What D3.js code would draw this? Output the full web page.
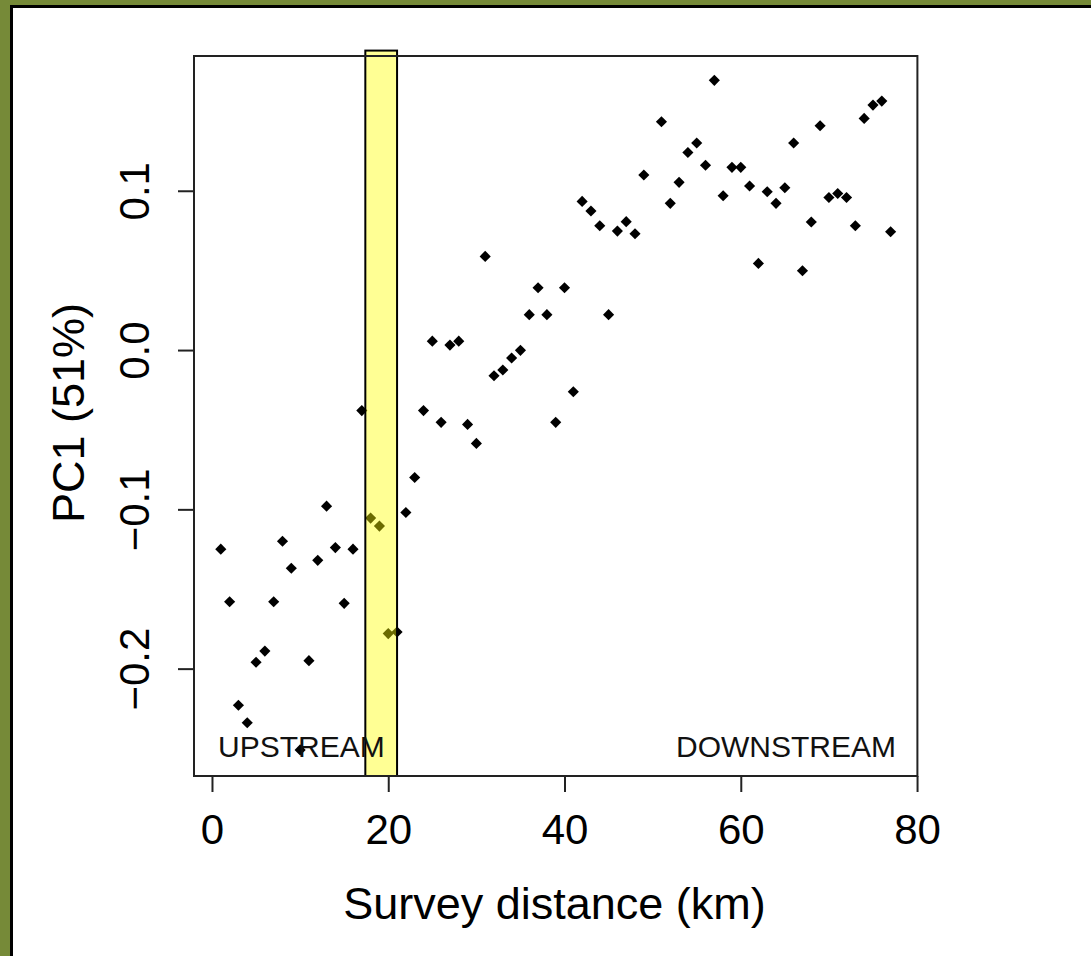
<!DOCTYPE html>
<html>
<head>
<meta charset="utf-8">
<script src="https://cdn.jsdelivr.net/npm/d3@7"></script>
<style>
  html, body { margin: 0; padding: 0; background: #fff; }
  svg { display: block; }
  text { font-family: "Liberation Sans", Arial, sans-serif; }
</style>
</head>
<body>
<svg id="chart" width="1091" height="956"></svg>
<script>
// ---- data ----
const distanceKm = [
  1, 2, 3, 4, 5, 6, 7, 8, 9, 10,
  11, 12, 13, 14, 15, 16, 17, 18, 19, 20,
  21, 22, 23, 24, 25, 26, 27, 28, 29, 30,
  31, 32, 33, 34, 35, 36, 37, 38, 39, 40,
  41, 42, 43, 44, 45, 46, 47, 48, 49,
  51, 52, 53, 54, 55, 56, 57, 58, 59, 60,
  61, 62, 63, 64, 65, 66, 67, 68, 69, 70,
  71, 72, 73, 74, 75, 76, 77
];
const pc1 = [
  -0.125, -0.158, -0.223, -0.234, -0.196, -0.189, -0.158, -0.120, -0.137, -0.251,
  -0.195, -0.132, -0.098, -0.124, -0.159, -0.125, -0.038, -0.1055, -0.1105, -0.178,
  -0.177, -0.102, -0.080, -0.038, 0.0056, -0.0454, 0.0031, 0.0056, -0.0467, -0.0586,
  0.0588, -0.0161, -0.0125, -0.005, -0.0002, 0.0222, 0.0391, 0.0222, -0.0454, 0.0391,
  -0.0262, 0.0933, 0.0873, 0.078, 0.0222, 0.0747, 0.0806, 0.073, 0.1099,
  0.1433, 0.0921, 0.1053, 0.124, 0.130, 0.116, 0.1693, 0.0969, 0.1147, 0.1147,
  0.103, 0.0544, 0.0994, 0.0921, 0.1019, 0.130, 0.0498, 0.0804, 0.1408, 0.0958,
  0.0983, 0.0958, 0.078, 0.1454, 0.1538, 0.1563, 0.0743
];
const xTicks = [0, 20, 40, 60, 80];
const yTicks = [-0.2, -0.1, 0.0, 0.1];
const bandKm = [17.4, 21.0];
const bandTopValue = 0.188;
const xLabel = "Survey distance (km)";
const yLabel = "PC1 (51%)";
const leftNote = "UPSTREAM";
const rightNote = "DOWNSTREAM";

// ---- layout ----
const svg = d3.select("#chart");
const W = 1091, H = 956;
const box = { left: 194, right: 917.4, top: 56, bottom: 776 };

const x = d3.scaleLinear().domain([-2.04, 80.04]).range([box.left, box.right]);
const y = d3.scaleLinear().domain([-0.2674, 0.1846]).range([box.bottom, box.top]);

// background & frame
svg.append("rect").attr("x", 0).attr("y", 0).attr("width", W).attr("height", H).attr("fill", "#768a38");
svg.append("rect").attr("x", 10).attr("y", 5).attr("width", W - 10).attr("height", H - 5).attr("fill", "#000");
svg.append("rect").attr("x", 13).attr("y", 8).attr("width", W - 13).attr("height", H - 8).attr("fill", "#fff");

// points (filled diamonds)
const pts = distanceKm.map((d, i) => ({ km: d, v: pc1[i] }));
svg.append("g").selectAll("path").data(pts).join("path")
  .attr("d", d3.symbol().type(d3.symbolSquare).size(62))
  .attr("transform", d => `translate(${x(d.km)},${y(d.v)}) rotate(45)`)
  .attr("fill", "#000");

// highlight band (semi-transparent yellow over points)
svg.append("rect")
  .attr("x", x(bandKm[0]))
  .attr("y", y(bandTopValue))
  .attr("width", x(bandKm[1]) - x(bandKm[0]))
  .attr("height", box.bottom - y(bandTopValue))
  .attr("fill", "rgb(255,255,0)")
  .attr("fill-opacity", 0.42)
  .attr("stroke", "#000")
  .attr("stroke-width", 2);

// plot box
svg.append("rect")
  .attr("x", box.left).attr("y", box.top)
  .attr("width", box.right - box.left).attr("height", box.bottom - box.top)
  .attr("fill", "none").attr("stroke", "#222").attr("stroke-width", 2);

// axes
const fs = 42, fsLab = 45;
const xAxis = d3.axisBottom(x).tickValues(xTicks).tickSize(16).tickPadding(22).tickFormat(d3.format("d"));
const gx = svg.append("g").attr("transform", `translate(0,${box.bottom})`).call(xAxis);
gx.select(".domain").remove();
gx.selectAll(".tick line").attr("stroke", "#222").attr("stroke-width", 2);
gx.selectAll(".tick text").attr("font-size", fs).attr("fill", "#000")
  .attr("font-family", "Liberation Sans, Arial, sans-serif");

const yAxis = d3.axisLeft(y).tickValues(yTicks).tickSize(16).tickFormat(d3.format(".1f"));
const gy = svg.append("g").attr("transform", `translate(${box.left},0)`).call(yAxis);
gy.select(".domain").remove();
gy.selectAll(".tick line").attr("stroke", "#222").attr("stroke-width", 2);
gy.selectAll(".tick text")
  .attr("font-size", fs).attr("fill", "#000")
  .attr("font-family", "Liberation Sans, Arial, sans-serif")
  .attr("x", null)
  .attr("text-anchor", "middle")
  .attr("transform", "translate(-60,0) rotate(-90)")
  .attr("y", 0)
  .attr("dy", "0.35em");

// axis titles
svg.append("text")
  .attr("x", (x(0) + x(80)) / 2 - 10).attr("y", 919)
  .attr("text-anchor", "middle").attr("font-size", fsLab).attr("fill", "#000")
  .text(xLabel);
svg.append("text")
  .attr("transform", `translate(84,${(box.top + box.bottom) / 2 - 3}) rotate(-90)`)
  .attr("text-anchor", "middle").attr("font-size", fsLab).attr("fill", "#000")
  .text(yLabel);

// notes
svg.append("text").attr("x", 218).attr("y", 757)
  .attr("font-size", 30).attr("fill", "#111").text(leftNote);
svg.append("text").attr("x", 896).attr("y", 757).attr("text-anchor", "end")
  .attr("font-size", 30).attr("fill", "#111").text(rightNote);
</script>
</body>
</html>
